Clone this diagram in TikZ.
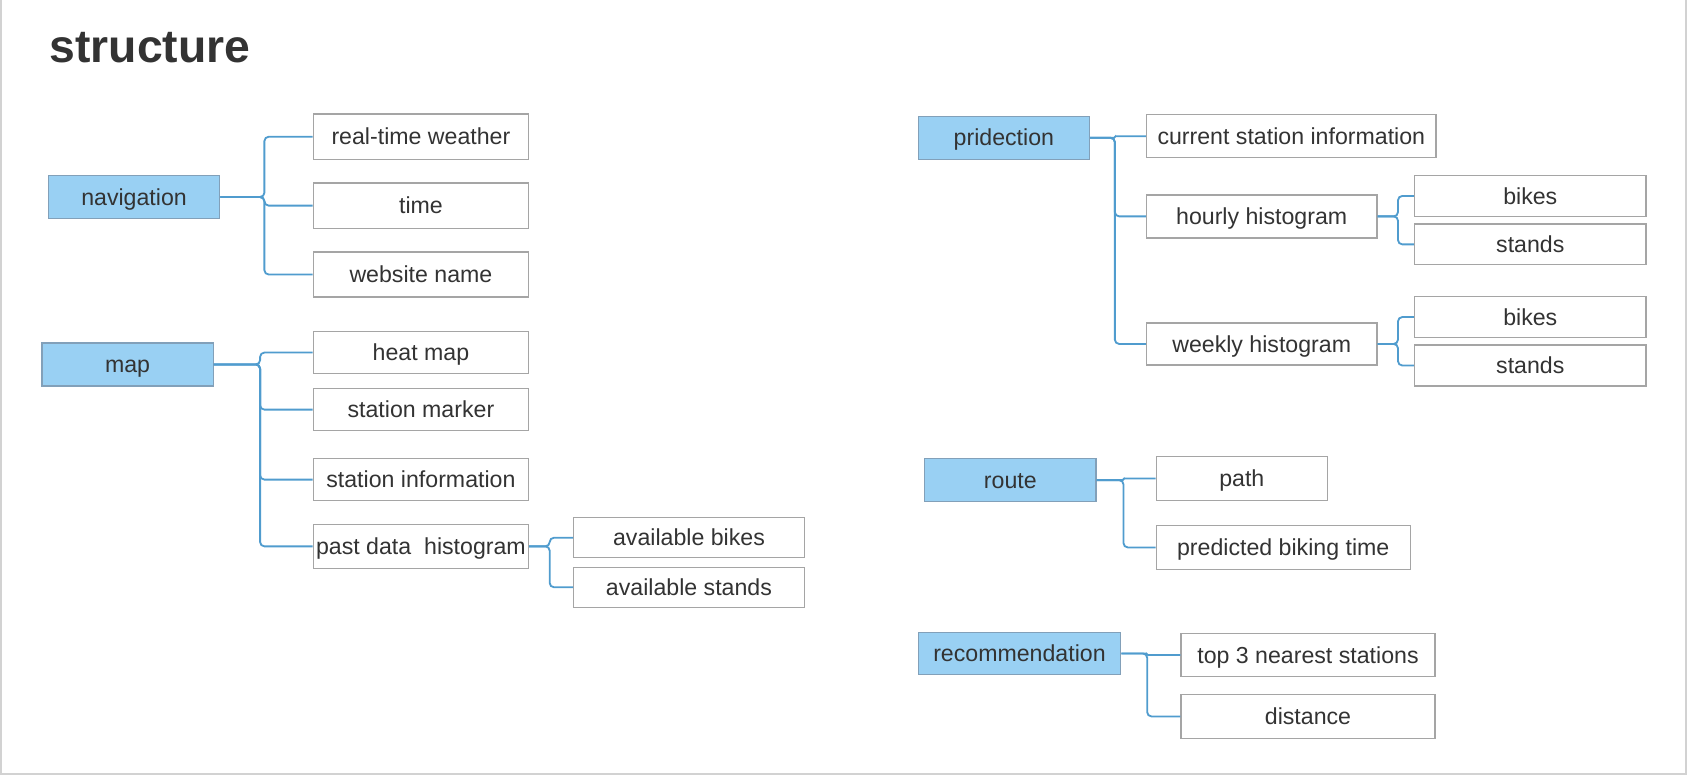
\documentclass[tikz,border=0pt]{standalone}
\usepackage{fontspec}
\setmainfont{Liberation Sans}
\begin{document}
\definecolor{txt}{RGB}{51,51,51}
\definecolor{boxline}{RGB}{165,165,165}
\definecolor{parfill}{RGB}{153,208,243}
\definecolor{parline}{RGB}{130,160,185}
\definecolor{conncol}{RGB}{80,156,206}
\definecolor{frame}{RGB}{210,210,210}
\begin{tikzpicture}[x=1pt,y=-1pt,
  base/.style={rectangle,inner sep=0pt,text=txt,text height=16pt,text depth=1pt,font=\fontsize{21.5}{24}\selectfont},
  parent/.style={base,fill=parfill,draw=parline,line width=1.2pt,minimum width=159pt,minimum height=40pt},
  child/.style={base,fill=white,draw=boxline,line width=1.2pt,minimum height=40pt},
  conn/.style={draw=conncol,line width=1.7pt,rounded corners=4pt},
  connsmall/.style={conn,rounded corners=0.8pt}]
\useasboundingbox (0,0) rectangle (1568,721);
\draw[frame,line width=1.5pt] (1,0) -- (1,719) -- (1566,719) -- (1566,0);
\node[anchor=base west,inner sep=0pt,text=txt,font=\fontsize{43}{48}\selectfont\bfseries] (title) at (46,58) {structure};
% navigation
\node[parent] (nav) at (124.5,183) {navigation};
\node[child,minimum width=200pt,minimum height=42pt] (rtw) at (391,127) {real-time weather};
\node[child,minimum width=200pt,minimum height=42pt] (time) at (391,191) {time};
\node[child,minimum width=200pt,minimum height=42pt] (web) at (391,255) {website name};
\foreach \c in {rtw,time,web} \draw[conn] (nav.east) -- ++(41,0) |- (\c.west);
% map
\node[parent] (map) at (118.5,338.5) {map};
\node[child,minimum width=200pt,minimum height=39pt] (heat) at (391,327.5) {heat map};
\node[child,minimum width=200pt,minimum height=39pt] (marker) at (391,380.5) {station marker};
\node[child,minimum width=200pt,minimum height=39pt] (sinfo) at (391,445.5) {station information};
\node[child,minimum width=200pt,minimum height=41pt] (past) at (391,507.5) {past data\ \ histogram};
\foreach \c in {heat,marker,sinfo,past} \draw[conn] (map.east) -- ++(43,0) |- (\c.west);
\node[child,minimum width=214pt,minimum height=37pt] (abikes) at (640,499.5) {available bikes};
\node[child,minimum width=214pt,minimum height=37pt] (astands) at (640,545.5) {available stands};
\foreach \c in {abikes,astands} \draw[conn] (past.east) -- ++(19,0) |- (\c.west);
% pridection
\node[parent] (pred) at (932.5,128) {pridection};
\node[child,minimum width=269pt,minimum height=40pt] (cur) at (1199.5,126.5) {current station information};
\node[child,minimum width=214pt,minimum height=40pt] (hourly) at (1172,201) {hourly histogram};
\node[child,minimum width=214pt,minimum height=39pt] (weekly) at (1172,319.5) {weekly histogram};
\draw[connsmall] (pred.east) -- ++(23,0) |- (cur.west);
\foreach \c in {hourly,weekly} \draw[conn] (pred.east) -- ++(23,0) |- (\c.west);
\node[child,minimum width=215pt,minimum height=38pt] (hbikes) at (1421.5,182) {bikes};
\node[child,minimum width=215pt,minimum height=38pt] (hstands) at (1421.5,227) {stands};
\foreach \c in {hbikes,hstands} \draw[conn] (hourly.east) -- ++(19,0) |- (\c.west);
\node[child,minimum width=215pt,minimum height=38pt] (wbikes) at (1421.5,294.5) {bikes};
\node[child,minimum width=215pt,minimum height=38pt] (wstands) at (1421.5,339.5) {stands};
\foreach \c in {wbikes,wstands} \draw[conn] (weekly.east) -- ++(19,0) |- (\c.west);
% route
\node[parent] (route) at (938.5,446) {route};
\node[child,minimum width=159pt,minimum height=41pt] (path) at (1153.5,444.5) {path};
\node[child,minimum width=236pt,minimum height=41pt] (pbt) at (1192,508.5) {predicted biking time};
\draw[connsmall] (route.east) -- ++(25,0) |- (path.west);
\draw[conn] (route.east) -- ++(25,0) |- (pbt.west);
% recommendation
\node[parent,minimum width=188pt,minimum height=39pt] (rec) at (947,607) {recommendation};
\node[child,minimum width=236pt,minimum height=40pt] (top3) at (1215,608.5) {top 3 nearest stations};
\node[child,minimum width=236pt,minimum height=41pt] (dist) at (1215,665.5) {distance};
\draw[connsmall] (rec.east) -- ++(24,0) |- (top3.west);
\draw[conn] (rec.east) -- ++(24,0) |- (dist.west);
\end{tikzpicture}
\end{document}
